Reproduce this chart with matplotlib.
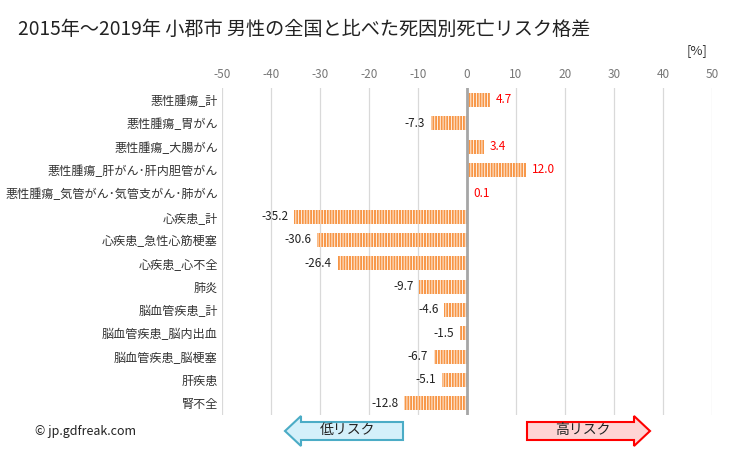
import matplotlib
matplotlib.use("Agg")
import matplotlib.pyplot as plt
from matplotlib.patches import FancyArrow
import numpy as np

plt.rcParams['font.family'] = ['Noto Sans CJK JP', 'DejaVu Sans']
plt.rcParams['axes.unicode_minus'] = False
plt.rcParams['hatch.linewidth'] = 0.6

# data
causes = ["悪性腫瘍_計", "悪性腫瘍_胃がん", "悪性腫瘍_大腸がん", "悪性腫瘍_肝がん･肝内胆管がん",
          "悪性腫瘍_気管がん･気管支がん･肺がん", "心疾患_計", "心疾患_急性心筋梗塞", "心疾患_心不全",
          "肺炎", "脳血管疾患_計", "脳血管疾患_脳内出血", "脳血管疾患_脳梗塞", "肝疾患", "腎不全"]
values = [4.7, -7.3, 3.4, 12.0, 0.1, -35.2, -30.6, -26.4, -9.7, -4.6, -1.5, -6.7, -5.1, -12.8]
xticks = [-50, -40, -30, -20, -10, 0, 10, 20, 30, 40, 50]

fig = plt.figure(figsize=(7.29, 4.5), dpi=100)
ax = fig.add_axes([0.3045, 0.078, 0.672, 0.726])

y = np.arange(len(causes))
ax.barh(y, values, height=0.6, color='#F79646', edgecolor='white', hatch='||||||', linewidth=0, zorder=3)

for yi, v in zip(y, values):
    if v >= 0:
        ax.text(v + 1.2, yi, f"{v:.1f}", va='center', ha='left', fontsize=8.5, color='red')
    else:
        ax.text(v - 1.2, yi, f"{v:.1f}", va='center', ha='right', fontsize=8.5, color='#222222')

ax.set_xlim(-50, 50)
ax.set_ylim(len(causes) - 0.5, -0.5)
ax.set_xticks(xticks)
ax.xaxis.tick_top()
ax.tick_params(axis='x', length=0, labelsize=8.5, labelcolor='#777777', pad=5)
ax.set_yticks(y)
ax.set_yticklabels(causes, fontsize=8.7, color='#333333')
ax.tick_params(axis='y', length=0, pad=3)
ax.grid(axis='x', color='#d9d9d9', linewidth=0.9, zorder=0)
ax.axvline(0, color='#a6a6a6', linewidth=2, zorder=4)
for s in ax.spines.values():
    s.set_visible(False)

fig.text(0.025, 0.935, "2015年～2019年 小郡市 男性の全国と比べた死因別死亡リスク格差", fontsize=13.8, color='#222222', va='center')
fig.text(0.942, 0.888, "[%]", fontsize=9.5, color='#333333', va='center')
fig.text(0.048, 0.04, "© jp.gdfreak.com", fontsize=9, color='#222222', va='center')

# arrows
fig.patches.append(FancyArrow(403/729, 1 - 431/450, -118/729, 0, width=18/450, head_width=30/450,
                              head_length=16/729, length_includes_head=True, transform=fig.transFigure,
                              facecolor='#d4f0fa', edgecolor='#4bacc6', linewidth=1.5))
fig.text(347/729, 1 - 430/450, "低リスク", fontsize=10, ha='center', va='center', color='#222222')
fig.patches.append(FancyArrow(527/729, 1 - 431/450, 123/729, 0, width=18/450, head_width=30/450,
                              head_length=16/729, length_includes_head=True, transform=fig.transFigure,
                              facecolor='#ffd4d4', edgecolor='red', linewidth=1.5))
fig.text(583/729, 1 - 430/450, "高リスク", fontsize=10, ha='center', va='center', color='#222222')

fig.savefig("out.png", dpi=100)
